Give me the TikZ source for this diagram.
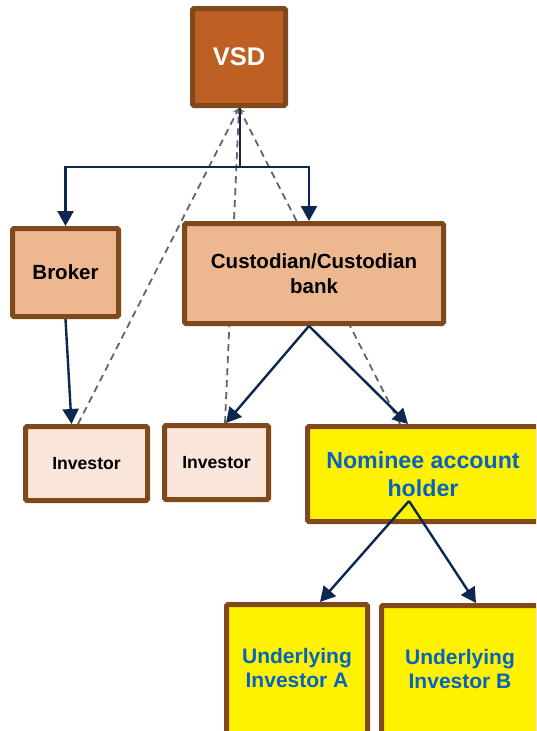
\documentclass[tikz,border=0pt]{standalone}
\usepackage{fontspec}
\setmainfont{Liberation Sans}
\usetikzlibrary{arrows.meta}
\definecolor{vsdfill}{RGB}{190,96,36}
\definecolor{brownborder}{RGB}{127,73,27}
\definecolor{lightorange}{RGB}{237,183,143}
\definecolor{paleorange}{RGB}{250,229,218}
\definecolor{navyline}{RGB}{13,40,80}
\definecolor{bluetext}{RGB}{5,99,193}
\definecolor{dashgray}{RGB}{100,100,100}
\pgfdeclarelayer{bg}
\pgfsetlayers{bg,main}
\tikzset{
  box/.style={draw=brownborder, line width=5pt, rounded corners=1.5pt, align=center, inner sep=0pt, font=\bfseries},
  flow/.style={draw=navyline, line width=2.4pt, -{Triangle[width=16pt,length=15pt]}},
  dash link/.style={draw=dashgray, line width=1.8pt, dash pattern=on 7pt off 5pt, -{Stealth[width=7pt,length=6pt]}},
}
\begin{document}
\begin{tikzpicture}[x=1pt,y=-1pt]
\clip (0,0) rectangle (536,731);
% boxes
\node[box, fill=vsdfill, text=white, minimum width=93pt, minimum height=97pt,
  font=\bfseries\fontsize{25.5}{30}\selectfont] (vsd) at (239,57) {VSD};
\node[box, fill=lightorange, minimum width=106pt, minimum height=88pt,
  font=\bfseries\fontsize{20.5}{25}\selectfont] (broker) at (65.5,272.5) {Broker};
\node[box, fill=lightorange, minimum width=259pt, minimum height=100pt,
  font=\bfseries\fontsize{20.5}{25}\selectfont] (cust) at (314,273.5) {Custodian/Custodian\\bank};
\node[box, fill=paleorange, minimum width=122pt, minimum height=74pt,
  font=\bfseries\fontsize{17.6}{21}\selectfont] (inv1) at (86.5,463.5) {Investor};
\node[box, fill=paleorange, minimum width=104pt, minimum height=74pt,
  font=\bfseries\fontsize{17.6}{21}\selectfont] (inv2) at (216.5,462.5) {Investor};
\node[box, fill=yellow, text=bluetext, minimum width=231pt, minimum height=95pt,
  font=\bfseries\fontsize{23.2}{28}\selectfont] (nom) at (423,474) {Nominee account\\holder};
\node[box, fill=yellow, text=bluetext, minimum width=141pt, minimum height=133pt,
  font=\bfseries\fontsize{21}{24}\selectfont, text depth=6pt] (ua) at (297,671) {Underlying\\Investor A};
\node[box, fill=yellow, text=bluetext, minimum width=157pt, minimum height=132pt,
  font=\bfseries\fontsize{21}{24}\selectfont, text depth=6pt] (ub) at (460,671.5) {Underlying\\Investor B};
% dashed links behind boxes
\begin{pgfonlayer}{bg}
\fill[white] (0,0) rectangle (536,731);
\draw[dash link] ([xshift=-8.5pt]inv1.north) -- (vsd.south);
\draw[dash link] ([xshift=8.5pt]inv2.north) -- (vsd.south);
\draw[dash link] ([xshift=-23pt]nom.north) -- (vsd.south);
\end{pgfonlayer}
% solid flows
\draw[flow] ([xshift=1pt]vsd.south) -- ++(0,59) -| (broker.north);
\draw[flow] ([xshift=1pt]vsd.south) -- ++(0,59) -| ([xshift=-5pt]cust.north);
\draw[flow] (broker.south) -- ([xshift=-15pt]inv1.north);
\draw[flow] ([xshift=-5pt]cust.south) -- ([xshift=9.5pt]inv2.north);
\draw[flow] ([xshift=-5pt]cust.south) -- ([xshift=-15pt]nom.north);
\draw[flow] ([xshift=-14pt,yshift=-27pt]nom.center) -- ([xshift=23pt]ua.north);
\draw[flow] ([xshift=-14pt,yshift=-27pt]nom.center) -- ([xshift=16pt]ub.north);
\end{tikzpicture}
\end{document}
